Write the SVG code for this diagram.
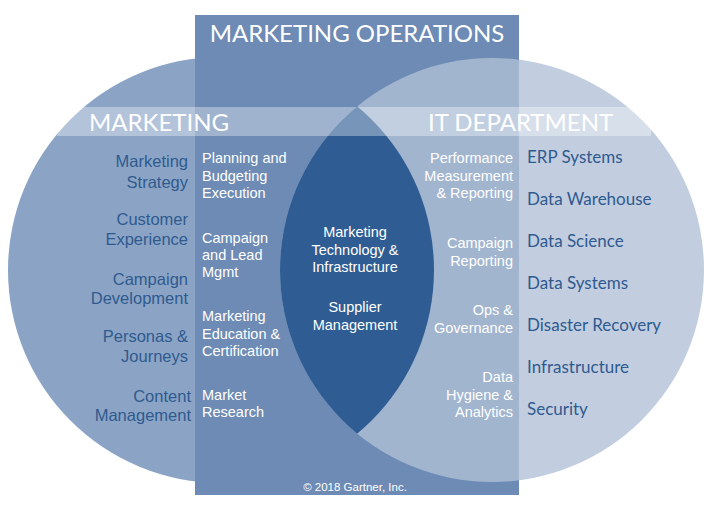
<svg xmlns="http://www.w3.org/2000/svg" width="712" height="519" viewBox="0 0 712 519">
<defs>
<clipPath id="cR"><circle cx="492" cy="270" r="212"/></clipPath>
<clipPath id="cL"><circle cx="221" cy="270" r="213"/></clipPath>
<clipPath id="col"><rect x="195" y="15" width="324" height="480"/></clipPath>
</defs>
<style>
.t{font-family:"Liberation Sans",Arial,sans-serif;font-size:14.5px}
.d{fill:#2f5a8f;font-size:16.5px}.w{fill:#fff}
.h{font-family:Lato,"Liberation Sans",sans-serif;font-size:24px;fill:#fff}
.b{font-family:Lato,"Liberation Sans",sans-serif;font-size:17px;fill:#2f5a8f}
</style>
<rect width="712" height="519" fill="#fff"/>
<g id="shapes">
<circle cx="221" cy="270" r="213" fill="#8ba4c5"/>
<circle cx="492" cy="270" r="212" fill="#c2cee0"/>
<rect x="195" y="15" width="324" height="480" fill="#6d8bb4"/>
<g clip-path="url(#col)"><circle cx="492" cy="270" r="212" fill="#a2b5cf"/></g>
<g clip-path="url(#cL)"><circle cx="492" cy="270" r="212" fill="#2f5d93"/></g>
<rect x="57" y="107" width="594" height="29" fill="#fff" opacity="0.35"/>
</g>
<g id="titles">
<text class="h" x="357" y="42" text-anchor="middle">MARKETING OPERATIONS</text>
<text class="h" x="89" y="131">MARKETING</text>
<text class="h" x="428" y="131">IT DEPARTMENT</text>
</g>
<g id="left" class="t d" text-anchor="end">
<text x="188" y="167">Marketing</text><text x="188" y="188">Strategy</text>
<text x="188" y="225">Customer</text><text x="188" y="245">Experience</text>
<text x="188" y="285">Campaign</text><text x="188" y="304">Development</text>
<text x="188" y="342">Personas &amp;</text><text x="188" y="362">Journeys</text>
<text x="191" y="402">Content</text><text x="191" y="421">Management</text>
</g>
<g id="col-left" class="t w">
<text x="202" y="163">Planning and</text><text x="202" y="181">Budgeting</text><text x="202" y="198">Execution</text>
<text x="202" y="243">Campaign</text><text x="202" y="260">and Lead</text><text x="202" y="277">Mgmt</text>
<text x="202" y="321">Marketing</text><text x="202" y="339">Education &amp;</text><text x="202" y="356">Certification</text>
<text x="202" y="400">Market</text><text x="202" y="417">Research</text>
</g>
<g id="center" class="t w" text-anchor="middle">
<text x="355" y="237">Marketing</text><text x="355" y="255">Technology &amp;</text><text x="355" y="272">Infrastructure</text>
<text x="355" y="312">Supplier</text><text x="355" y="330">Management</text>
</g>
<g id="col-right" class="t w" text-anchor="end">
<text x="513" y="163">Performance</text><text x="513" y="181">Measurement</text><text x="513" y="198">&amp; Reporting</text>
<text x="513" y="248">Campaign</text><text x="513" y="266">Reporting</text>
<text x="513" y="315">Ops &amp;</text><text x="513" y="333">Governance</text>
<text x="513" y="382">Data</text><text x="513" y="400">Hygiene &amp;</text><text x="513" y="417">Analytics</text>
</g>
<g id="right" class="b">
<text x="527" y="163">ERP Systems</text>
<text x="527" y="205">Data Warehouse</text>
<text x="527" y="247">Data Science</text>
<text x="527" y="289">Data Systems</text>
<text x="527" y="331">Disaster Recovery</text>
<text x="527" y="373">Infrastructure</text>
<text x="527" y="415">Security</text>
</g>
<text x="355" y="491" text-anchor="middle" font-family="Liberation Sans,Arial,sans-serif" font-size="11.5" fill="#fff">© 2018 Gartner, Inc.</text>
</svg>
